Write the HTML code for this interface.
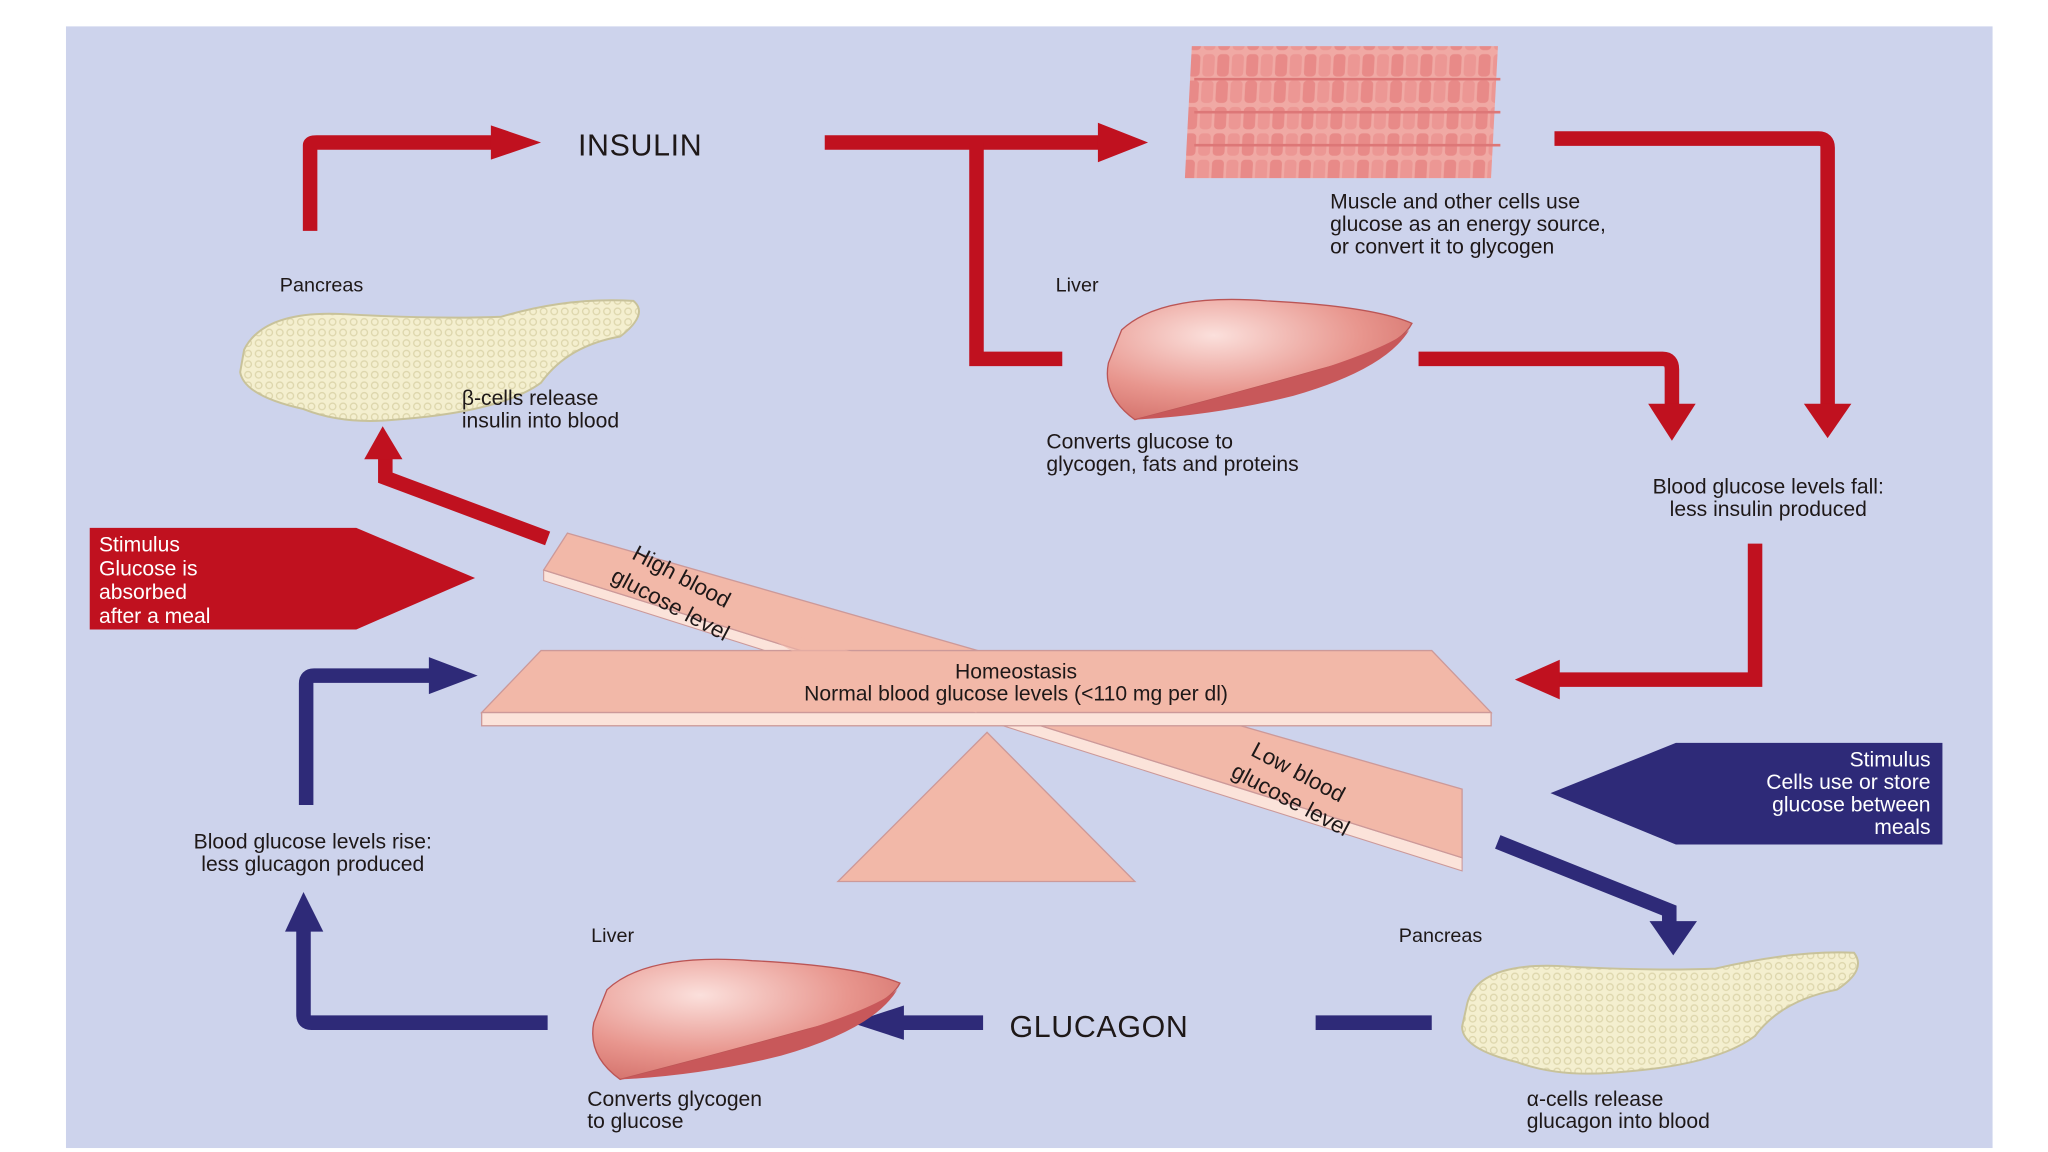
<!DOCTYPE html>
<html><head><meta charset="utf-8"><style>
html,body{margin:0;padding:0;background:#fff;}
svg{display:block}
text{font-family:"Liberation Sans",sans-serif;fill:#1e1818;}
text.w{fill:#fff;}
</style></head><body>
<svg width="2048" height="1152" viewBox="0 0 1552 873" preserveAspectRatio="none" xmlns="http://www.w3.org/2000/svg">
<defs>
<pattern id="cells" width="22" height="20" patternUnits="userSpaceOnUse">
<rect width="22" height="20" fill="#f0a9a4"/>
<rect x="1" y="1" width="9" height="17" rx="3" fill="#e88a88"/>
<rect x="12" y="1" width="9" height="17" rx="3" fill="#ec9794"/>
</pattern>
<pattern id="panc" width="8" height="8" patternUnits="userSpaceOnUse">
<rect width="8" height="8" fill="#f4efcf"/>
<circle cx="4" cy="4" r="2.5" fill="none" stroke="#ddd6ac" stroke-width="1"/>
</pattern>
<radialGradient id="liv" cx="0.35" cy="0.3" r="0.8"><stop offset="0" stop-color="#fbe0dc"/><stop offset="0.6" stop-color="#e8968e"/><stop offset="1" stop-color="#d26e68"/></radialGradient>
</defs>
<rect x="0" y="0" width="1552" height="873" fill="#fff"/>
<rect x="50" y="20" width="1460" height="850" fill="#cdd3ec"/>

<g>
<rect x="905" y="35" width="232" height="100" fill="url(#cells)" transform="skewX(-3)"/>
<line x1="905" y1="60" x2="1137" y2="60" stroke="#d77" stroke-width="2"/>
<line x1="905" y1="85" x2="1137" y2="85" stroke="#d77" stroke-width="2"/>
<line x1="905" y1="110" x2="1137" y2="110" stroke="#d77" stroke-width="2"/>
</g>

<g fill="none" stroke="#c0111f" stroke-width="11">
<path d="M235 175 V110 Q235 108 240 108 H380"/>
<path d="M625 108 H840"/>
<path d="M740 108 V272 H805"/>
<path d="M1178 105 H1378 Q1385 105 1385 112 V308"/>
<path d="M1075 272 H1260 Q1267 272 1267 280 V308"/>
<path d="M415 408 L292 362 V345"/>
<path d="M1330 412 V515 H1180"/>
</g>
<g fill="#c0111f">
<polygon points="372,95 410,108 372,121"/>
<polygon points="832,93 870,108 832,123"/>
<polygon points="1367,306 1385,332 1403,306"/>
<polygon points="1249,306 1267,334 1285,306"/>
<polygon points="276,348 290,323 305,348"/>
<polygon points="1182,500 1148,515 1182,530"/>
<polygon points="68,400 270,400 360,438 270,477 68,477"/>
</g>

<g fill="none" stroke="#2e2a78" stroke-width="11">
<path d="M232 610 V518 Q232 512 238 512 H330"/>
<path d="M415 775 H236 Q230 775 230 769 V705"/>
<path d="M745 775 H680"/>
<path d="M1085 775 H997"/>
<path d="M1135 638 L1265 690 V700"/>
</g>
<g fill="#2e2a78">
<polygon points="325,498 362,512 325,526"/>
<polygon points="216,706 230,676 245,706"/>
<polygon points="685,762 645,775 685,788"/>
<polygon points="1250,698 1268,724 1286,698"/>
<polygon points="1472,563 1270,563 1175,601 1270,640 1472,640"/>
</g>

<polygon points="635,668 748,555 860,668" fill="#f2b8a8" stroke="#c99" stroke-width="1"/>
<polygon points="412,432 1108,650 1108,660 412,440" fill="#fbe3da" stroke="#c99" stroke-width="0.8"/>
<polygon points="430,404 1108,598 1108,650 412,432" fill="#f2b8a8" stroke="#c99" stroke-width="1"/>
<polygon points="410,493 1085,493 1130,540 365,540" fill="#f2b8a8" stroke="#c99" stroke-width="1"/>
<rect x="365" y="540" width="765" height="10" fill="#fbe3da" stroke="#c99" stroke-width="1"/>
<polygon points="560,470 740,520 740,540 620,505" fill="#f2b8a8" opacity="0.6"/>

<text x="770" y="514" font-size="16" text-anchor="middle">Homeostasis</text>
<text x="770" y="531" font-size="16" text-anchor="middle">Normal blood glucose levels (&lt;110 mg per dl)</text>
<text font-size="17" transform="translate(478,423) rotate(28)">High blood</text>
<text font-size="17" transform="translate(462,440) rotate(28)">glucose level</text>
<text font-size="17" transform="translate(947,572) rotate(28)">Low blood</text>
<text font-size="17" transform="translate(932,588) rotate(28)">glucose level</text>

<path d="M185 265 Q200 235 260 238 Q330 242 380 240 Q430 225 480 228 Q492 238 470 255 Q430 262 410 290 Q380 312 300 318 Q260 322 230 310 Q185 300 182 282 Z" fill="url(#panc)" stroke="#c8c29a" stroke-width="1.5"/>
<path d="M1112 760 Q1120 730 1180 732 Q1250 736 1300 734 Q1360 720 1405 722 Q1415 735 1392 750 Q1350 758 1330 785 Q1300 808 1220 813 Q1180 816 1150 805 Q1108 795 1108 778 Z" fill="url(#panc)" stroke="#c8c29a" stroke-width="1.5"/>
<path d="M850 250 Q880 222 960 228 Q1040 232 1070 245 Q1060 265 1000 280 Q930 300 860 318 Q835 300 840 275 Z" fill="url(#liv)" stroke="#b55" stroke-width="1"/>
<path d="M860 318 Q930 300 1000 280 Q1055 262 1068 250 Q1050 280 980 300 Q920 315 860 318Z" fill="#c8585a"/>
<path d="M460 750 Q490 722 570 728 Q650 732 682 745 Q672 765 612 780 Q540 800 470 818 Q445 800 450 775 Z" fill="url(#liv)" stroke="#b55" stroke-width="1"/>
<path d="M470 818 Q540 800 612 780 Q667 762 680 750 Q662 780 592 800 Q532 815 470 818Z" fill="#c8585a"/>

<text x="438" y="118" font-size="23" letter-spacing="0.5">INSULIN</text>
<text x="765" y="786" font-size="23" letter-spacing="0.5">GLUCAGON</text>
<text x="212" y="221" font-size="15">Pancreas</text>
<text x="800" y="221" font-size="15">Liver</text>
<text x="448" y="714" font-size="15">Liver</text>
<text x="1060" y="714" font-size="15">Pancreas</text>
<g font-size="16">
<text x="1008" y="158">Muscle and other cells use</text>
<text x="1008" y="175">glucose as an energy source,</text>
<text x="1008" y="192">or convert it to glycogen</text>
<text x="350" y="307">β-cells release</text>
<text x="350" y="324">insulin into blood</text>
<text x="793" y="340">Converts glucose to</text>
<text x="793" y="357">glycogen, fats and proteins</text>
<text x="1340" y="374" text-anchor="middle">Blood glucose levels fall:</text>
<text x="1340" y="391" text-anchor="middle">less insulin produced</text>
<text x="237" y="643" text-anchor="middle">Blood glucose levels rise:</text>
<text x="237" y="660" text-anchor="middle">less glucagon produced</text>
<text x="445" y="838">Converts glycogen</text>
<text x="445" y="855">to glucose</text>
<text x="1157" y="838">α-cells release</text>
<text x="1157" y="855">glucagon into blood</text>
</g>
<g font-size="16">
<text class="w" x="75" y="418">Stimulus</text>
<text class="w" x="75" y="436">Glucose is</text>
<text class="w" x="75" y="454">absorbed</text>
<text class="w" x="75" y="472">after a meal</text>
<text class="w" x="1463" y="581" text-anchor="end">Stimulus</text>
<text class="w" x="1463" y="598" text-anchor="end">Cells use or store</text>
<text class="w" x="1463" y="615" text-anchor="end">glucose between</text>
<text class="w" x="1463" y="632" text-anchor="end">meals</text>
</g>
</svg>
</body></html>
